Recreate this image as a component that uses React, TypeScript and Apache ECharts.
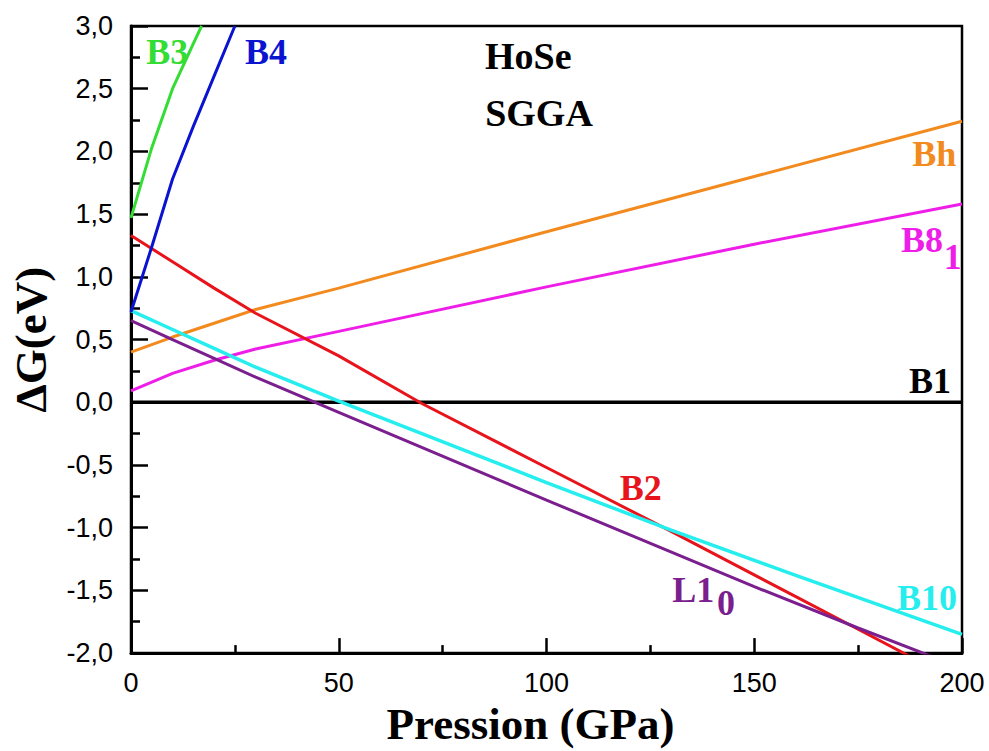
import React, { useEffect, useRef } from "react";
import * as echarts from "echarts";

// ---- data ----
const b3X = [0, 5, 10, 15, 17];
const b3Y = [1.47, 2.03, 2.5, 2.86, 3.0];
const b4X = [0, 5, 10, 15, 20, 25];
const b4Y = [0.72, 1.24, 1.78, 2.2, 2.6, 3.0];
const b1X = [0, 200];
const b1Y = [0, 0];
const bhX = [0, 10, 20, 30, 50, 100, 150, 200];
const bhY = [0.4, 0.52, 0.63, 0.74, 0.91, 1.36, 1.8, 2.24];
const b81X = [0, 10, 20, 30, 50, 100, 150, 200];
const b81Y = [0.09, 0.23, 0.335, 0.425, 0.565, 0.92, 1.26, 1.58];
const b2X = [0, 10, 20, 30, 50, 70, 100, 130, 160, 175, 190];
const b2Y = [1.33, 1.12, 0.91, 0.71, 0.37, -0.01, -0.52, -1.03, -1.55, -1.81, -2.07];
const b10X = [0, 10, 20, 30, 50, 100, 130, 160, 200];
const b10Y = [0.73, 0.58, 0.43, 0.28, 0.01, -0.64, -1.02, -1.38, -1.85];
const l10X = [0, 10, 20, 30, 50, 100, 150, 175, 200];
const l10Y = [0.65, 0.5, 0.35, 0.2, -0.08, -0.78, -1.47, -1.8, -2.12];

const xTicks = [0, 50, 100, 150, 200];
const yTicks = [-2, -1.5, -1, -0.5, 0, 0.5, 1, 1.5, 2, 2.5, 3];

const COLORS = {
  b3: "#33dd33",
  b4: "#0a14d0",
  b1: "#000000",
  bh: "#f28a1e",
  b81: "#ee1ee8",
  b2: "#e8141c",
  b10: "#26eeee",
  l10: "#7b1f8e",
};

// annotation texts anchored in data coordinates: [text, x, y, color, size]
const labels: [string, number, number, string, number][] = [
  ["B3", 8.7, 2.79, COLORS.b3, 36],
  ["B4", 32.5, 2.79, COLORS.b4, 36],
  ["HoSe", 95.6, 2.76, "#000000", 38],
  ["SGGA", 98.2, 2.31, "#000000", 38],
  ["Bh", 193.3, 1.98, COLORS.bh, 36],
  ["B8", 190.4, 1.29, COLORS.b81, 36],
  ["1", 197.8, 1.16, COLORS.b81, 36],
  ["B1", 192.3, 0.17, COLORS.b1, 36],
  ["B2", 122.7, -0.685, COLORS.b2, 36],
  ["L1", 135.3, -1.5, COLORS.l10, 36],
  ["0", 143.2, -1.6, COLORS.l10, 36],
  ["B10", 191.6, -1.56, COLORS.b10, 36],
];

const zip = (xs: number[], ys: number[]) => xs.map((x, i) => [x, ys[i]]);

export default function App() {
  const ref = useRef<HTMLDivElement>(null);
  useEffect(() => {
    document.body.style.margin = "0";
    const chart = echarts.init(ref.current!, undefined, { renderer: "svg" });
    const mk = (name: string, xs: number[], ys: number[], color: string, w = 3) => ({
      name,
      type: "line",
      data: zip(xs, ys),
      symbol: "none",
      smooth: false,
      clip: true,
      lineStyle: { color, width: w },
      z: name === "B1" ? 1 : 3,
    });
    chart.setOption({
      animation: false,
      backgroundColor: "#ffffff",
      grid: {
        left: 131,
        right: 27,
        top: 26,
        bottom: 90,
        show: true,
        borderColor: "#000",
        borderWidth: 2.5,
        backgroundColor: "transparent",
      },
      xAxis: {
        type: "value",
        min: 0,
        max: 200,
        interval: 50,
        name: "Pression (GPa)",
        nameLocation: "middle",
        nameGap: 38,
        nameTextStyle: {
          fontFamily: "Liberation Serif",
          fontWeight: "bold",
          fontSize: 45,
          color: "#000",
          padding: [0, 32, 0, 0],
        },
        axisLine: { onZero: false, lineStyle: { color: "#000", width: 3 } },
        axisTick: { inside: true, length: 15, lineStyle: { color: "#000", width: 2.5 } },
        minorTick: { show: true, splitNumber: 2, length: 8, lineStyle: { color: "#000", width: 2.5 } },
        splitLine: { show: false },
        axisLabel: {
          fontFamily: "Liberation Sans",
          fontSize: 27,
          color: "#000",
          margin: 16,
          formatter: (v: number) => (xTicks.includes(v) ? String(v) : ""),
        },
      },
      yAxis: {
        type: "value",
        min: -2,
        max: 3,
        interval: 0.5,
        name: "ΔG(eV)",
        nameLocation: "middle",
        nameGap: 78,
        nameTextStyle: {
          fontFamily: "Liberation Serif",
          fontWeight: "bold",
          fontSize: 45,
          color: "#000",
        },
        axisLine: { onZero: false, lineStyle: { color: "#000", width: 3 } },
        axisTick: { inside: true, length: 17, lineStyle: { color: "#000", width: 2.5 } },
        minorTick: { show: true, splitNumber: 2, length: 9, lineStyle: { color: "#000", width: 2.5 } },
        splitLine: { show: false },
        axisLabel: {
          fontFamily: "Liberation Sans",
          fontSize: 27,
          color: "#000",
          margin: 18,
          formatter: (v: number) =>
            yTicks.some((t) => Math.abs(t - v) < 1e-9) ? v.toFixed(1).replace(".", ",") : "",
        },
      },
      series: [
        mk("B1", b1X, b1Y, COLORS.b1, 3.5),
        mk("Bh", bhX, bhY, COLORS.bh),
        mk("B81", b81X, b81Y, COLORS.b81),
        mk("B2", b2X, b2Y, COLORS.b2),
        mk("B10", b10X, b10Y, COLORS.b10, 3.5),
        mk("L10", l10X, l10Y, COLORS.l10),
        mk("B3", b3X, b3Y, COLORS.b3),
        mk("B4", b4X, b4Y, COLORS.b4),
      ],
    });
    const graphic = labels.map(([text, x, y, color, size]) => {
      const [px, py] = chart.convertToPixel({ gridIndex: 0 }, [x, y]) as number[];
      return {
        type: "text",
        x: px,
        y: py,
        z: 10,
        style: {
          text,
          fill: color,
          fontFamily: "Liberation Serif",
          fontWeight: "bold",
          fontSize: size,
          align: "center",
          verticalAlign: "middle",
        },
      };
    });
    chart.setOption({ graphic });
    return () => chart.dispose();
  }, []);
  return (
    <div
      ref={ref}
      style={{ position: "absolute", left: 0, top: 0, width: 989, height: 751 }}
    />
  );
}
